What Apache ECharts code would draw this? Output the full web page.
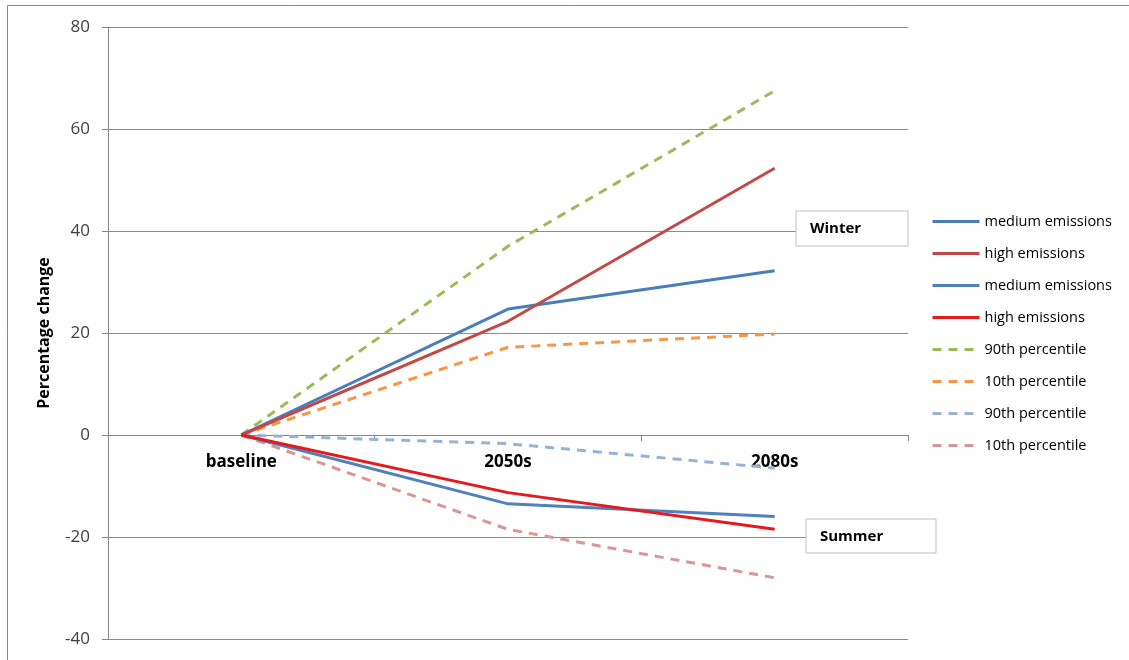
<!DOCTYPE html>
<html>
<head>
<meta charset="utf-8">
<script src="https://cdn.jsdelivr.net/npm/echarts@6/dist/echarts.min.js"></script>
<style>html,body{margin:0;padding:0;background:#fff}#c{width:1129px;height:660px}</style>
</head>
<body>
<div id="c"></div>
<script>
const categories = ['baseline', '2050s', '2080s'];
const yTicks = { min: -40, max: 80, interval: 20 };
const winterMedium = [0, 24.7, 32.2];
const winterHigh = [0, 22.3, 52.3];
const summerMedium = [0, -13.5, -16.0];
const summerHigh = [0, -11.3, -18.5];
const winter90 = [0, 37.0, 67.5];
const winter10 = [0, 17.2, 19.8];
const summer90 = [0, -1.7, -6.5];
const summer10 = [0, -18.5, -28.0];

const FONT = '"Open Sans", "Liberation Sans", sans-serif';
const dash = [9, 7];
function ser(name, data, color, dashed) {
  return {
    name: name, type: 'line', data: data, symbol: 'circle', showSymbol: false, smooth: false,
    lineStyle: { color: color, width: 3, type: dashed ? dash : 'solid' },
    itemStyle: { color: color }
  };
}
const chart = echarts.init(document.getElementById('c'), null, { renderer: 'canvas' });
chart.setOption({
  animation: false,
  backgroundColor: '#fff',
  grid: { left: 108, right: 221, top: 27, bottom: 21, containLabel: false, outerBoundsMode: 'none' },
  xAxis: {
    type: 'category', data: categories, boundaryGap: true, position: 'bottom',
    offset: -204,
    axisLine: { onZero: false, lineStyle: { color: '#868686', width: 1 } },
    axisTick: { show: true, inside: false, length: 6, lineStyle: { color: '#868686' } },
    axisLabel: { color: '#000', fontFamily: FONT, fontWeight: 'bold', fontSize: 17, margin: 19 }
  },
  yAxis: {
    type: 'value', min: yTicks.min, max: yTicks.max, interval: yTicks.interval,
    name: 'Percentage change', nameLocation: 'middle', nameGap: 56, nameRotate: 90,
    nameTextStyle: { color: '#000', fontFamily: FONT, fontWeight: 'bold', fontSize: 16 },
    axisLine: { show: true, lineStyle: { color: '#868686' } },
    axisTick: { show: true, length: 6, lineStyle: { color: '#868686' } },
    axisLabel: { color: '#404040', fontFamily: FONT, fontSize: 17, margin: 18 },
    splitLine: { show: true, lineStyle: { color: '#8c8c8c', width: 1 } }
  },
  legend: {
    orient: 'vertical', left: 931, top: 214, padding: 0, itemWidth: 47, itemHeight: 14, itemGap: 17,
    itemStyle: { opacity: 0 },
    lineStyle: { width: 3 },
    textStyle: { color: '#000', fontFamily: FONT, fontSize: 14.5 },
    data: [
      'medium emissions (W)', 'high emissions (W)', 'medium emissions (S)', 'high emissions (S)',
      '90th percentile (W)', '10th percentile (W)', '90th percentile (S)', '10th percentile (S)'
    ],
    formatter: function (n) { return n.replace(/ \([WS]\)$/, ''); }
  },
  graphic: [
    { type: 'rect', x: 7.5, y: 5.5, shape: { width: 1140, height: 670 }, style: { fill: 'none', stroke: '#8a8a8a', lineWidth: 1 }, z: 0 },
    { type: 'rect', x: 796, y: 211, z: 100, shape: { width: 112, height: 35 }, style: { fill: '#fff', stroke: '#bfbfbf', lineWidth: 1 } },
    { type: 'text', x: 810, y: 229, z: 101, style: { text: 'Winter', fill: '#000', font: 'bold 15px ' + FONT, verticalAlign: 'middle', align: 'left' } },
    { type: 'rect', x: 806, y: 519, z: 100, shape: { width: 130, height: 34 }, style: { fill: '#fff', stroke: '#bfbfbf', lineWidth: 1 } },
    { type: 'text', x: 820, y: 537, z: 101, style: { text: 'Summer', fill: '#000', font: 'bold 15px ' + FONT, verticalAlign: 'middle', align: 'left' } }
  ],
  series: [
    ser('90th percentile (W)', winter90, '#9BBB59', true),
    ser('10th percentile (W)', winter10, '#F79646', true),
    ser('90th percentile (S)', summer90, '#95B3D7', true),
    ser('10th percentile (S)', summer10, '#D99694', true),
    ser('medium emissions (W)', winterMedium, '#4A7EBB', false),
    ser('high emissions (W)', winterHigh, '#BE4B48', false),
    ser('medium emissions (S)', summerMedium, '#4F81BD', false),
    ser('high emissions (S)', summerHigh, '#E41A1C', false)
  ]
});
</script>
</body>
</html>
